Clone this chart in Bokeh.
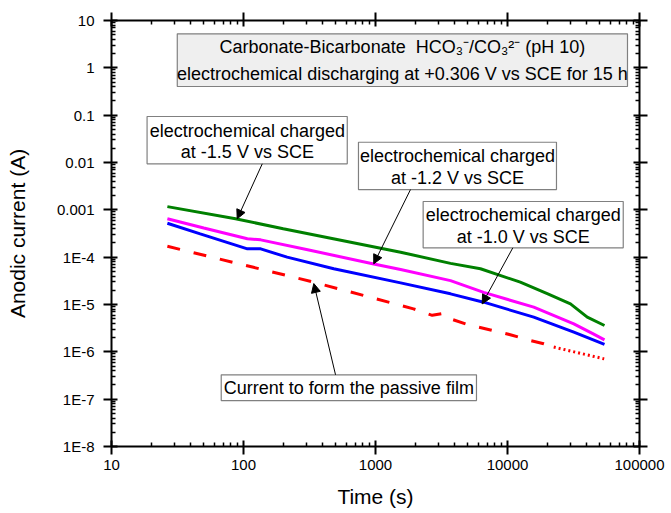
from bokeh.plotting import figure
from bokeh.models import (LogAxis, FixedTicker, CustomJSTickFormatter, BoxAnnotation,
                          Label, Arrow, NormalHead)
from bokeh.embed import file_html
from bokeh.resources import INLINE

# ---------------- data ----------------
green_t = [26.5, 87, 200, 500, 1550, 3700, 6240, 12500, 20000, 30000, 40200, 54300]
green_i = [1.17e-3, 6.46e-4, 4.0e-4, 2.4e-4, 1.27e-4, 7.4e-5, 5.7e-5, 2.96e-5, 1.69e-5, 1.03e-5, 5.4e-6, 3.6e-6]

magenta_t = [26.5, 50, 107, 135, 300, 970, 1550, 3700, 6600, 15800, 31800, 45000, 54300]
magenta_i = [6.5e-4, 4.14e-4, 2.44e-4, 2.32e-4, 1.45e-4, 7.2e-5, 5.5e-5, 3.2e-5, 1.8e-5, 8.8e-6, 3.9e-6, 2.36e-6, 1.79e-6]

blue_t = [26.5, 47, 107, 135, 214, 483, 1550, 3700, 6600, 15800, 31800, 54300]
blue_i = [5.2e-4, 3.1e-4, 1.5e-4, 1.5e-4, 1.0e-4, 5.7e-5, 2.86e-5, 1.68e-5, 1.12e-5, 5.4e-6, 2.6e-6, 1.43e-6]

red_t = [26.5, 119, 341, 1940, 2690, 3290, 3700, 4940, 7430, 10500, 14900, 18800, 22400, 54000]
red_i = [1.7e-4, 6.1e-5, 2.96e-5, 8.1e-6, 5.9e-6, 6.5e-6, 4.98e-6, 3.8e-6, 2.9e-6, 2.3e-6, 1.73e-6, 1.48e-6, 1.26e-6, 7.1e-7]
red_dotted_from = 12  # index where the red curve turns dotted

x_ticks = [10, 100, 1000, 10000, 100000]
x_tick_labels = ["10", "100", "1000", "10000", "100000"]
y_ticks = [1e-8, 1e-7, 1e-6, 1e-5, 1e-4, 1e-3, 1e-2, 1e-1, 1, 10]
y_tick_labels = ["1E-8", "1E-7", "1E-6", "1E-5", "1E-4", "0.001", "0.01", "0.1", "1", "10"]

x_minor = [m * 10 ** k for k in range(1, 5) for m in range(2, 10)]
y_minor = [m * 10.0 ** k for k in range(-8, 1) for m in range(2, 10)]

FONT = "Liberation Sans"

p = figure(width=671, height=513, x_axis_type="log", y_axis_type="log",
           x_range=(10, 1e5), y_range=(1e-8, 10),
           output_backend="svg", toolbar_location=None,
           min_border_left=111, min_border_right=32, min_border_top=20, min_border_bottom=67)
p.xgrid.visible = False
p.ygrid.visible = False
p.outline_line_color = None
p.background_fill_color = "white"
p.border_fill_color = "white"


def fmt(tick_values, labels):
    return CustomJSTickFormatter(args=dict(tv=tick_values, tl=labels), code="""
        let best = 0, bd = Infinity;
        for (let i = 0; i < tv.length; i++) {
            const d = Math.abs(Math.log10(tv[i]) - Math.log10(tick));
            if (d < bd) { bd = d; best = i; }
        }
        return tl[best];
    """)


def style(ax):
    ax.axis_line_width = 2
    ax.axis_line_color = "black"
    ax.major_tick_line_width = 2
    ax.minor_tick_line_width = 1.5
    ax.major_tick_in = 6
    ax.major_tick_out = 8
    ax.minor_tick_in = 4
    ax.minor_tick_out = 0
    ax.major_label_text_font = FONT
    ax.major_label_text_font_size = "15px"
    ax.major_label_text_color = "black"
    ax.axis_label_text_font = FONT
    ax.axis_label_text_font_size = "21px"
    ax.axis_label_text_font_style = "normal"
    ax.axis_label_text_color = "black"


xax = p.xaxis[0]
xax.ticker = FixedTicker(ticks=x_ticks, minor_ticks=x_minor)
xax.formatter = fmt(x_ticks, x_tick_labels)
xax.axis_label = "Time (s)"
style(xax)
xax.major_label_standoff = 5
xax.axis_label_standoff = 12

yax = p.yaxis[0]
yax.ticker = FixedTicker(ticks=y_ticks, minor_ticks=y_minor)
yax.formatter = fmt(y_ticks, y_tick_labels)
yax.axis_label = "Anodic current (A)"
style(yax)
yax.major_label_standoff = 9
yax.axis_label_standoff = 25

top = LogAxis(ticker=FixedTicker(ticks=x_ticks, minor_ticks=x_minor),
              formatter=CustomJSTickFormatter(code="return ''"))
style(top)
top.major_label_standoff = 0
p.add_layout(top, "above")

right = LogAxis(ticker=FixedTicker(ticks=y_ticks, minor_ticks=y_minor),
                formatter=CustomJSTickFormatter(code="return ''"))
style(right)
right.major_label_standoff = 0
p.add_layout(right, "right")

# ---------------- curves ----------------
p.line(green_t, green_i, line_color="#008000", line_width=3)
p.line(magenta_t, magenta_i, line_color="#ff00ff", line_width=3)
p.line(blue_t, blue_i, line_color="#0000ff", line_width=3)
p.line(red_t[:red_dotted_from + 1], red_i[:red_dotted_from + 1], line_color="#ff0000",
       line_width=3, line_dash="13 14")
p.line(red_t[red_dotted_from:], red_i[red_dotted_from:], line_color="#ff0000",
       line_width=3, line_dash="2 3")

# ---------------- annotations ----------------
def box(l, r, b, t, fill="white"):
    p.add_layout(BoxAnnotation(left=l, right=r, bottom=b, top=t, fill_color=fill, fill_alpha=1,
                               line_color="#808080", line_width=1.2, line_alpha=1))


def text(x, y, s):
    p.add_layout(Label(x=x, y=y, text=s, text_align="center", text_baseline="middle",
                       text_font=FONT, text_font_size="18px", text_color="black"))


def arrow(x0, y0, x1, y1):
    p.add_layout(Arrow(end=NormalHead(size=9, fill_color="black", line_color="black", line_width=1),
                       x_start=x0, y_start=y0, x_end=x1, y_end=y1,
                       line_color="black", line_width=1))


# title box
box(31.5, 81100, 0.403, 5.24, fill="#efefef")
text(1600, 2.73, "Carbonate-Bicarbonate\u00a0\u00a0HCO\u2083\u207b/CO\u2083\u00b2\u207b (pH 10)")
text(1600, 0.748, "electrochemical discharging at +0.306 V vs SCE for 15 h")

# -1.5 V
box(18.6, 611, 0.00938, 0.0938)
text(107, 0.0474, "electrochemical charged")
text(107, 0.0165, "at -1.5 V vs SCE")
arrow(138.7, 0.00938, 89.6, 6.46e-4)

# -1.2 V
box(743, 23500, 0.00268, 0.0268)
text(4180, 0.0134, "electrochemical charged")
text(4180, 0.00482, "at -1.2 V vs SCE")
arrow(1841, 0.00268, 970, 7.24e-5)

# -1.0 V
box(2296, 75300, 1.574e-4, 0.0015)
text(13150, 7.96e-4, "electrochemical charged")
text(13150, 2.64e-4, "at -1.0 V vs SCE")
arrow(10970, 1.574e-4, 6430, 1.03e-5)

# passive film
box(67.8, 5821, 9.35e-8, 3.27e-7)
text(628, 1.76e-7, "Current to form the passive film")
arrow(498, 3.27e-7, 341, 2.77e-5)

open("out.html", "w").write(file_html(p, INLINE))
